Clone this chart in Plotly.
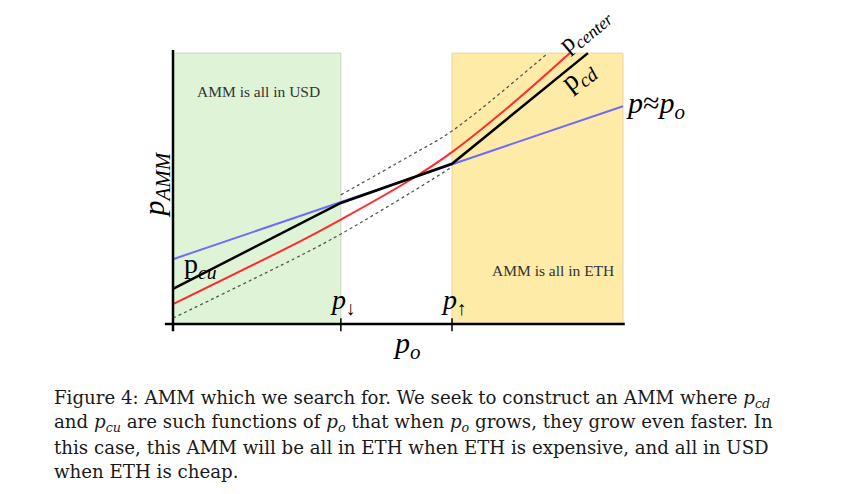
import plotly.graph_objects as go

# ---- data (p_o on x, p_AMM on y, arbitrary units) ----
x_axis_end = 10.0
p_down = 3.73
p_up = 6.2
y_top = 6.02

blue_x = [0.0, 10.0]
blue_y = [1.44, 4.84]

black_x = [0.0, 3.73, 6.2, 9.22]
black_y = [0.78, 2.69, 3.56, 6.02]

red_x = [0.0, 2.89, 3.73, 5.27, 6.2, 7.49, 8.82]
red_y = [0.44, 1.87, 2.32, 3.20, 3.82, 4.85, 6.02]

upper_x = [3.73, 5.27, 6.2, 8.33]
upper_y = [2.87, 3.74, 4.29, 6.02]

lower_x = [0.0, 2.89, 3.73, 5.27, 6.2]
lower_y = [0.13, 1.55, 2.0, 2.91, 3.49]

caption_lines = [
    "Figure 4: AMM which we search for. We seek to construct an AMM where <i>p<sub>cd</sub></i>",
    "and <i>p<sub>cu</sub></i> are such functions of <i>p<sub>o</sub></i> that when <i>p<sub>o</sub></i> grows, they grow even faster. In",
    "this case, this AMM will be all in ETH when ETH is expensive, and all in USD",
    "when ETH is cheap.",
]

W, H = 853, 494
pad = 8  # page body margin
ox, oy, s = 173 - pad, 324 - pad, 45.0  # pixel origin and scale within the figure
xr = [-ox / s, (W - ox) / s]
yr = [(oy - H) / s, oy / s]

fig = go.Figure()

# shaded regions
fig.add_shape(type="rect", x0=0, x1=p_down, y0=0, y1=y_top, fillcolor="#dff3d6",
              line=dict(color="#c8d8c0", width=1), layer="below")
fig.add_shape(type="rect", x0=p_up, x1=x_axis_end, y0=0, y1=y_top, fillcolor="#fdeba7",
              line=dict(color="#e8d8a0", width=1), layer="below")

dash = "3px,3px"
fig.add_trace(go.Scatter(x=lower_x, y=lower_y, mode="lines",
                         line=dict(color="#555555", width=1.3, dash=dash, shape="spline")))
fig.add_trace(go.Scatter(x=upper_x, y=upper_y, mode="lines",
                         line=dict(color="#555555", width=1.3, dash=dash, shape="spline")))
fig.add_trace(go.Scatter(x=blue_x, y=blue_y, mode="lines",
                         line=dict(color="#6e6ef5", width=2)))
fig.add_trace(go.Scatter(x=red_x, y=red_y, mode="lines",
                         line=dict(color="#ff2a2a", width=2, shape="spline")))
fig.add_trace(go.Scatter(x=black_x, y=black_y, mode="lines",
                         line=dict(color="black", width=2.5)))

# axes
fig.add_shape(type="line", x0=-0.18, x1=x_axis_end + 0.04, y0=0, y1=0, line=dict(color="black", width=2.5))
fig.add_shape(type="line", x0=0, x1=0, y0=-0.16, y1=6.09, line=dict(color="black", width=2.5))
for xv in [p_down, p_up]:
    fig.add_shape(type="line", x0=xv, x1=xv, y0=-0.16, y1=0.13, line=dict(color="black", width=1.5))

ann = []
def A(x, y, text, size, angle=0, color="black", xanchor="center", family="Liberation Serif"):
    ann.append(dict(x=x, y=y, xref="x", yref="y", text=text, showarrow=False, textangle=angle,
                    xanchor=xanchor, yanchor="middle",
                    font=dict(family=family, size=size, color=color)))

A(1.89, 5.16, "AMM is all in USD", 15.5, color="#333333")
A(8.44, 1.2, "AMM is all in ETH", 15.5, color="#333333")
A(-0.4, 3.1, "<i>p<sub>AMM</sub></i>", 30, angle=-90)
A(5.2, -0.47, "<i>p<sub>o</sub></i>", 30)
A(3.78, 0.5, "<i>p</i><sub>↓</sub>", 28)
A(6.25, 0.5, "<i>p</i><sub>↑</sub>", 28)
A(0.6, 1.3, "p<sub><i>cu</i></sub>", 28)
A(9.0, 5.5, "p<sub><i>cd</i></sub>", 28, angle=-38)
A(9.15, 6.52, "p<sub><i>center</i></sub>", 25, angle=-40)
A(10.03, 4.86, "<i>p</i>≈<i>p<sub>o</sub></i>", 30, xanchor="left")

ys = [399, 423, 447, 471]
for t, yy in zip(caption_lines, ys):
    ann.append(dict(x=(52 - pad) / W, y=1 - (yy - pad) / H, xref="paper", yref="paper", text=t,
                    showarrow=False, xanchor="left", yanchor="middle",
                    font=dict(family="DejaVu Serif", size=18.2, color="#1a1a1a")))

fig.update_layout(
    width=W, height=H, margin=dict(l=0, r=0, t=0, b=0),
    paper_bgcolor="white", plot_bgcolor="white", showlegend=False,
    xaxis=dict(range=xr, visible=False, fixedrange=True),
    yaxis=dict(range=yr, visible=False, fixedrange=True),
    annotations=ann,
)
fig.write_html("out.html")
